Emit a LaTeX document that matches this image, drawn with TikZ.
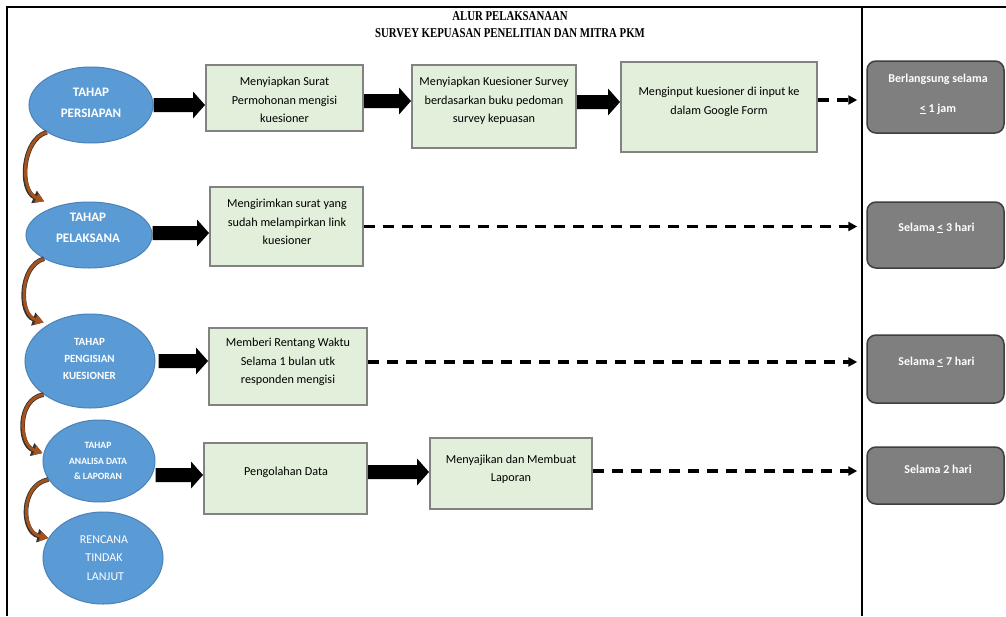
\documentclass[tikz,border=0pt]{standalone}
\usepackage{fontspec}
\setmainfont{Carlito}
\newfontfamily\titlefont[FakeStretch=0.8]{Liberation Serif}
\usetikzlibrary{shapes.geometric,arrows.meta,calc}
\definecolor{ellblue}{HTML}{5B9BD5}
\definecolor{ellborder}{HTML}{4A82B8}
\definecolor{boxgreen}{HTML}{E2EFDA}
\definecolor{boxborder}{HTML}{828282}
\definecolor{grayfill}{HTML}{7F7F7F}
\definecolor{grayborder}{HTML}{3F3F3F}
\definecolor{brownc}{HTML}{A5521C}
\newcommand\blockarr[2]{\fill[black] let \p1=(#1), \p2=(#2) in
  (\x1,\y1+7pt) -- (\x2-12pt,\y1+7pt) -- (\x2-12pt,\y1+13.5pt) -- (\x2,\y1)
  -- (\x2-12pt,\y1-13.5pt) -- (\x2-12pt,\y1-7pt) -- (\x1,\y1-7pt) -- cycle;}
\tikzset{
  phase/.style={ellipse, fill=ellblue, draw=ellborder, line width=1pt, inner sep=0pt},
  etxt/.style={font=\bfseries\fontsize{13}{21}\selectfont, align=center, text=white, inner sep=0pt},
  stepbox/.style={rectangle, fill=boxgreen, draw=boxborder, line width=2pt, inner sep=0pt},
  btxt/.style={font=\fontsize{12.2}{18.5}\selectfont, align=center, text=black, inner sep=0pt},
  timebox/.style={rectangle, rounded corners=9pt, fill=grayfill, draw=grayborder, line width=1.5pt, inner sep=0pt},
  gtxt/.style={font=\bfseries\fontsize{12}{30}\selectfont, align=center, text=white, inner sep=0pt},
  titletxt/.style={font=\titlefont\bfseries\fontsize{13.5}{16}\selectfont, inner sep=0pt},
  dasharr/.style={line width=3.2pt, dash pattern=on 11pt off 8pt, shorten >=9pt, -{Triangle[length=9pt,width=9pt]}},
  curv/.style={line width=3pt, draw=brownc, -{Triangle[length=8.5pt,width=10pt]},
    preaction={draw=black!80, line width=4.6pt, -{Triangle[length=11pt,width=13pt]}}},
  frameline/.style={line width=1.5pt, black}
}
\begin{document}
\begin{tikzpicture}[x=1pt,y=-1pt]
\useasboundingbox (0,0) rectangle (1006,616);
\fill[white] (0,0) rectangle (1006,616);
% frame
\draw[frameline] (1006,7) -- (7,7) -- (7,616);
\draw[frameline] (862,7) -- (862,616);
% title
\node[titletxt] (t1) at (510,16) {ALUR PELAKSANAAN};
\node[titletxt] (t2) at (510,33) {SURVEY KEPUASAN PENELITIAN DAN MITRA PKM};
% phases
\node[phase, minimum width=124pt, minimum height=76pt] (e1) at (91,105) {};
\node[phase, minimum width=126pt, minimum height=66pt] (e2) at (89,235) {};
\node[phase, minimum width=130pt, minimum height=94pt] (e3) at (90,361) {};
\node[phase, minimum width=112pt, minimum height=82pt] (e4) at (99,461) {};
\node[phase, minimum width=120pt, minimum height=92pt] (e5) at (103,558) {};
\node[etxt] (e1t) at (91,102.5) {TAHAP\\PERSIAPAN};
\node[etxt] (e2t) at (88,228) {TAHAP\\PELAKSANA};
\node[etxt, font=\bfseries\fontsize{11}{17}\selectfont] (e3t) at (89.5,359) {TAHAP\\PENGISIAN\\KUESIONER};
\node[etxt, font=\bfseries\fontsize{9.6}{15.5}\selectfont] (e4t) at (98,461) {TAHAP\\ANALISA DATA\\\& LAPORAN};
\node[etxt, font=\fontsize{12}{18.5}\selectfont] (e5t) at (104,558) {RENCANA\\TINDAK\\\hspace*{3pt}LANJUT};
% step boxes
\node[stepbox, minimum width=157pt, minimum height=66pt] (b1) at (284.5,98) {};
\node[stepbox, minimum width=164pt, minimum height=83pt] (b2) at (494,106.5) {};
\node[stepbox, minimum width=196pt, minimum height=90pt] (b3) at (719,107) {};
\node[stepbox, minimum width=153pt, minimum height=79pt] (b4) at (286.5,226.5) {};
\node[stepbox, minimum width=158pt, minimum height=77pt] (b5) at (288,366.5) {};
\node[stepbox, minimum width=163pt, minimum height=71pt] (b6) at (285.5,478.5) {};
\node[stepbox, minimum width=162pt, minimum height=71pt] (b7) at (511,473.5) {};
\node[btxt] (b1t) at (284.5,100) {Menyiapkan Surat\\Permohonan mengisi\\kuesioner};
\node[btxt] (b2t) at (494,101) {Menyiapkan Kuesioner Survey\\berdasarkan buku pedoman\\survey kepuasan};
\node[btxt] (b3t) at (719,102) {Menginput kuesioner di input ke\\dalam Google Form};
\node[btxt] (b4t) at (287,222) {Mengirimkan surat yang\\sudah melampirkan link\\kuesioner};
\node[btxt] (b5t) at (288,362) {Memberi Rentang Waktu\\Selama 1 bulan utk\\responden mengisi};
\node[btxt] (b6t) at (286,472) {Pengolahan Data};
\node[btxt] (b7t) at (511,469) {Menyajikan dan Membuat\\Laporan};
% time boxes
\node[timebox, minimum width=137pt, minimum height=72pt] (g1) at (935.5,97) {};
\node[timebox, minimum width=137pt, minimum height=66pt] (g2) at (935.5,235) {};
\node[timebox, minimum width=137pt, minimum height=68pt] (g3) at (935.5,369) {};
\node[timebox, minimum width=137pt, minimum height=57pt] (g4) at (935.5,475.5) {};
\node[gtxt] (g1t) at (938,94) {Berlangsung selama\\\underline{<} 1 jam};
\node[gtxt] (g2t) at (936.5,228) {Selama \underline{<} 3 hari};
\node[gtxt] (g3t) at (936.5,362) {Selama \underline{<} 7 hari};
\node[gtxt] (g4t) at (938,469) {Selama 2 hari};
% block arrows
\blockarr{e1.east}{b1.west}
\blockarr{[yshift=-3pt]b1.east}{b2.west}
\blockarr{[yshift=4.5pt]b2.east}{b3.west}
\blockarr{[yshift=2pt]e2.east}{b4.west}
\blockarr{[xshift=3pt]e3.east}{b5.west}
\blockarr{[yshift=-14pt]e4.east}{b6.west}
\blockarr{[yshift=6.5pt]b6.east}{b7.west}
% dashed arrows
\coordinate (d1) at ([yshift=7pt]b3.east);
\coordinate (d2) at (b4.east);
\coordinate (d3) at ([yshift=4.5pt]b5.east);
\coordinate (d4) at ([yshift=2.5pt]b7.east);
\draw[dasharr] (d1) -- (d1 -| g1.west);
\draw[dasharr] (d2) -- (d2 -| g2.west);
\draw[dasharr] (d3) -- (d3 -| g3.west);
\draw[dasharr] (d4) -- (d4 -| g4.west);
% curved arrows
\draw[curv] (e1.south west) .. controls +(-25,7) and +(-25,-11) .. ([yshift=10pt]e2.north west);
\draw[curv] (e2.south west) .. controls +(-25,7) and +(-25,-8) .. ([yshift=5pt]e3.north west);
\draw[curv] (e3.south west) .. controls +(-27,4) and +(-24,-8) .. ([yshift=8pt]e4.west);
\draw[curv] (e4.200) .. controls +(-29,6) and +(-27,-6) .. (e5.160);
\end{tikzpicture}
\end{document}
